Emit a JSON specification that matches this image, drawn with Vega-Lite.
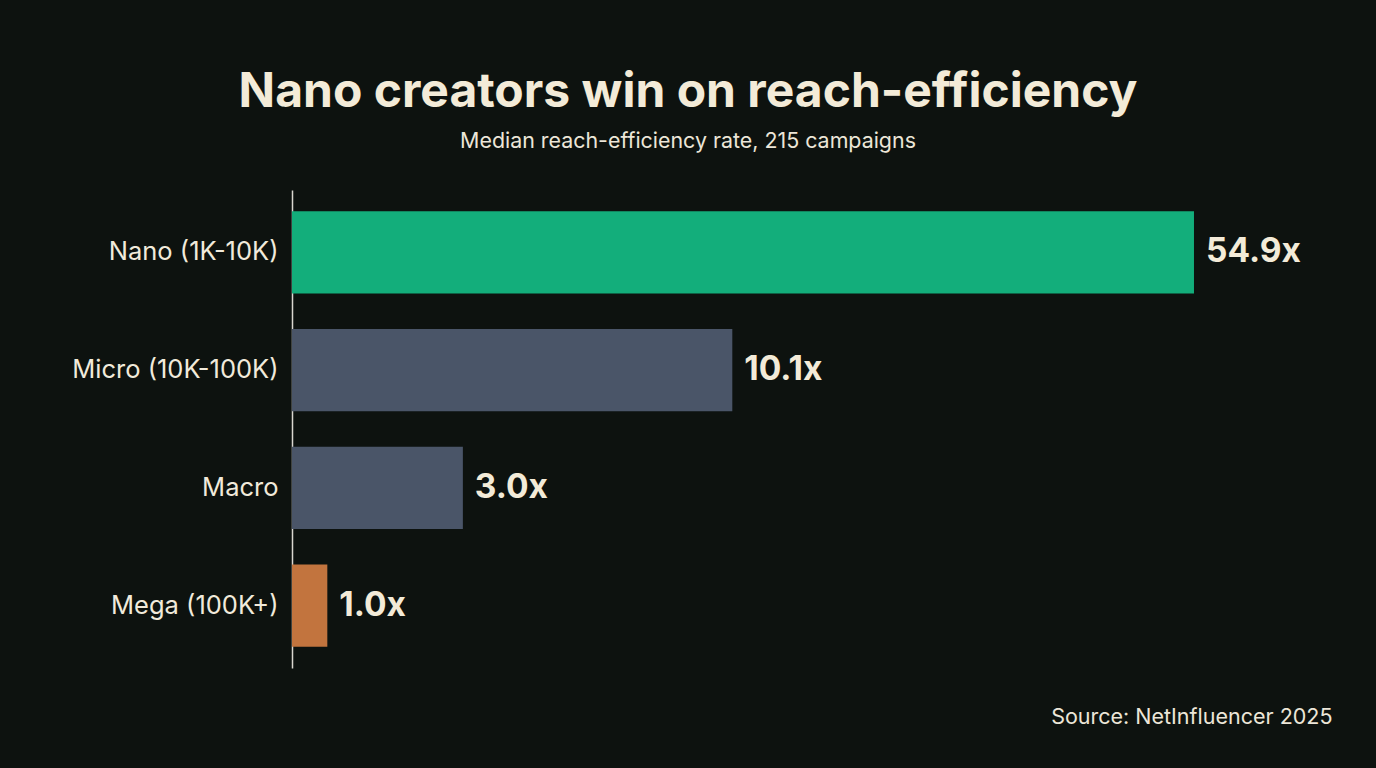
{
  "$schema": "https://vega.github.io/schema/vega-lite/v6.json",
  "autosize": "none",
  "width": 1040,
  "height": 478,
  "padding": {"left": 292, "top": 190, "right": 44, "bottom": 100},
  "background": "#0d120f",
  "title": {
    "text": "Nano creators win on reach-efficiency",
    "subtitle": "Median reach-efficiency rate, 215 campaigns",
    "anchor": "middle",
    "dx": -124,
    "offset": 38,
    "font": "Inter",
    "fontSize": 48,
    "fontWeight": "bold",
    "color": "#f3ebd8",
    "subtitleFont": "Inter",
    "subtitleFontSize": 21.4,
    "subtitleColor": "#ece6d8",
    "subtitlePadding": 14
  },
  "data": {
    "values": [
      {"tier": "Nano (1K-10K)", "bar": 54.9, "label": "54.9x", "group": "nano"},
      {"tier": "Micro (10K-100K)", "bar": 26.8, "label": "10.1x", "group": "mid"},
      {"tier": "Macro", "bar": 10.4, "label": "3.0x", "group": "mid2"},
      {"tier": "Mega (100K+)", "bar": 2.15, "label": "1.0x", "group": "mega"}
    ]
  },
  "encoding": {
    "y": {
      "field": "tier",
      "type": "nominal",
      "sort": null,
      "scale": {"paddingInner": 0.3, "paddingOuter": 0.18},
      "axis": {
        "title": null,
        "ticks": false,
        "labelPadding": 14,
        "labelLimit": 400,
        "labelFont": "Inter",
        "labelFontSize": 25.5,
        "labelColor": "#f1eadb",
        "domainColor": "#d9d6cf",
        "domainWidth": 1.5
      }
    },
    "x": {
      "field": "bar",
      "type": "quantitative",
      "scale": {"domain": [0, 63.3], "nice": false},
      "axis": {
        "title": "Source: NetInfluencer 2025",
        "titleAnchor": "end",
        "titleFont": "Inter",
        "titleFontSize": 21.5,
        "titleFontWeight": "normal",
        "titleColor": "#ece6d8",
        "titlePadding": 38,
        "labels": false,
        "ticks": false,
        "domain": false,
        "grid": false
      }
    }
  },
  "layer": [
    {
      "mark": {"type": "bar"},
      "encoding": {
        "color": {
          "field": "group",
          "type": "nominal",
          "scale": {"domain": ["nano", "mid", "mid2", "mega"], "range": ["#13ae7b", "#4a5568", "#4a5568", "#c2743e"]},
          "legend": null
        }
      }
    },
    {
      "mark": {"type": "text", "align": "left", "baseline": "middle", "dx": 12, "font": "Inter", "fontSize": 33.5, "fontWeight": "bold", "color": "#f3ebd8"},
      "encoding": {"text": {"field": "label"}}
    }
  ],
  "config": {"view": {"stroke": null}}
}
